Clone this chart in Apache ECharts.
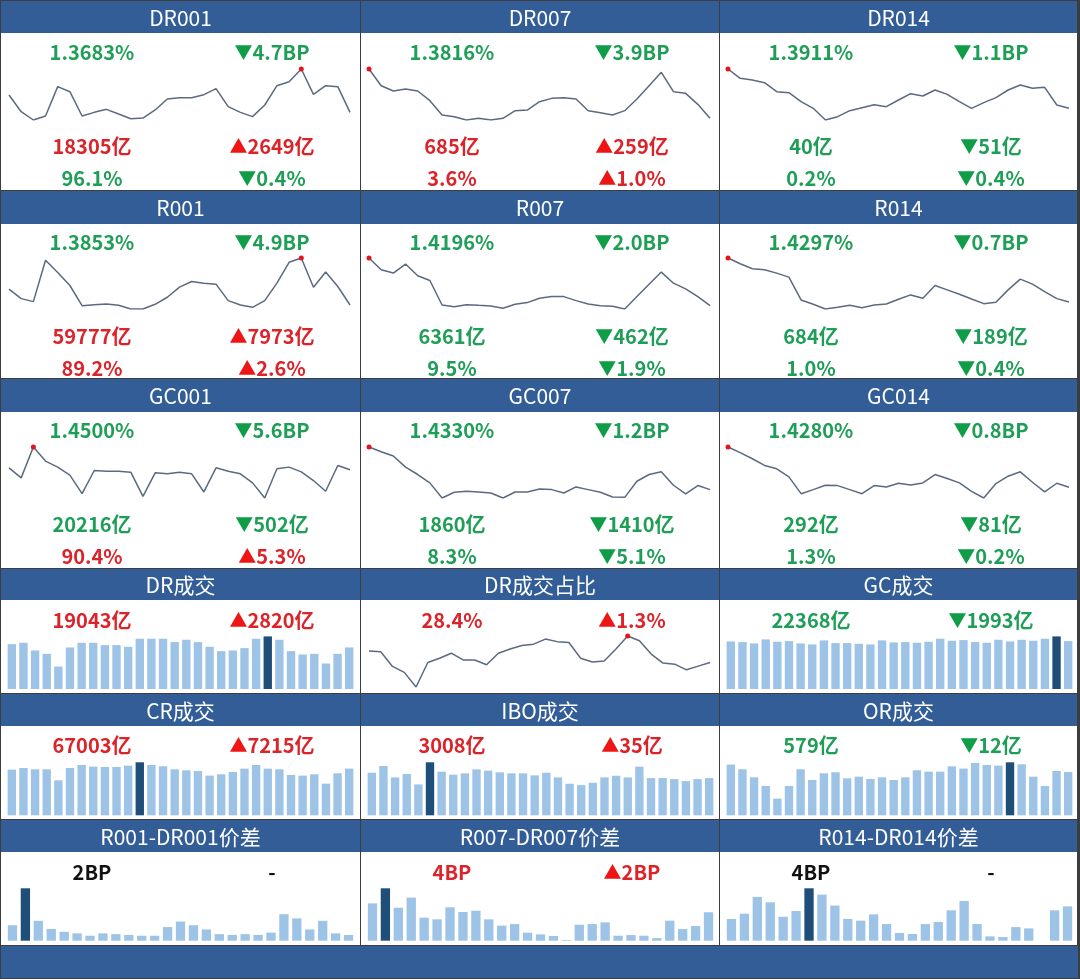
<!DOCTYPE html>
<html><head><meta charset="utf-8">
<script src="https://cdn.jsdelivr.net/npm/echarts/dist/echarts.min.js"></script>
<style>html,body{margin:0;padding:0;background:#fff}#c{width:1080px;height:979px}</style>
</head><body><div id="c"></div>
<script>
// ---------- DATA ----------
const rateNames = ['DR001','DR007','DR014','R001','R007','R014','GC001','GC007','GC014'];
const dr001Rates = [1.4000,1.3695,1.3543,1.3616,1.4153,1.4061,1.3616,1.3683,1.3738,1.3652,1.3567,1.3579,1.3726,1.3927,1.3951,1.3951,1.4006,1.4116,1.3787,1.3683,1.3604,1.3817,1.4171,1.4244,1.4476,1.4012,1.4171,1.4153,1.3683];
const dr007Rates = [1.5191,1.4726,1.4578,1.4633,1.4578,1.4308,1.3909,1.3862,1.3770,1.3816,1.3770,1.3816,1.4030,1.4048,1.4281,1.4373,1.4392,1.4355,1.4030,1.3974,1.3909,1.4030,1.4355,1.4726,1.5098,1.4559,1.4513,1.4206,1.3816];
const dr014Rates = [1.5209,1.4901,1.4846,1.4758,1.4461,1.4428,1.4131,1.3911,1.3526,1.3636,1.3834,1.3933,1.4032,1.3966,1.4186,1.4395,1.4318,1.4516,1.4373,1.4131,1.3911,1.4098,1.4263,1.4516,1.4681,1.4571,1.4604,1.4021,1.3911];
const r001Rates = [1.4272,1.4022,1.3942,1.5038,1.4717,1.4370,1.3835,1.3862,1.3880,1.3844,1.3746,1.3746,1.3871,1.4058,1.4325,1.4477,1.4432,1.4405,1.3969,1.3853,1.3791,1.3969,1.4432,1.4985,1.5100,1.4325,1.4726,1.4343,1.3853];
const r007Rates = [1.5248,1.4989,1.4915,1.5115,1.4855,1.4752,1.4211,1.4174,1.4218,1.4203,1.4189,1.4137,1.4226,1.4263,1.4359,1.4396,1.4396,1.4307,1.4233,1.4196,1.4181,1.4122,1.4396,1.4670,1.4937,1.4692,1.4567,1.4396,1.4196];
const r014Rates = [1.5214,1.5095,1.4990,1.4969,1.4899,1.4815,1.4339,1.4248,1.4150,1.4185,1.4227,1.4178,1.4234,1.4255,1.4353,1.4444,1.4374,1.4640,1.4549,1.4458,1.4360,1.4262,1.4290,1.4549,1.4773,1.4668,1.4514,1.4367,1.4297];
const gc001Rates = [1.4758,1.3468,1.7424,1.5618,1.4844,1.3812,1.1447,1.4414,1.4328,1.4328,1.4199,1.1103,1.4113,1.3984,1.4199,1.3984,1.1662,1.4758,1.4328,1.3984,1.2823,1.0888,1.4629,1.4844,1.4242,1.3124,1.1748,1.5059,1.4500];
const gc007Rates = [1.5600,1.5460,1.5330,1.5000,1.4780,1.4530,1.4080,1.4250,1.4280,1.4260,1.4230,1.4080,1.4260,1.4260,1.4350,1.4330,1.4230,1.4410,1.4330,1.4250,1.4110,1.4100,1.4580,1.4780,1.4860,1.4460,1.4200,1.4450,1.4330];
const gc014Rates = [1.5080,1.4967,1.4847,1.4714,1.4647,1.4487,1.4153,1.4233,1.4320,1.4313,1.4233,1.4153,1.4313,1.4287,1.4360,1.4327,1.4367,1.4533,1.4453,1.4367,1.4200,1.4067,1.4353,1.4500,1.4587,1.4380,1.4187,1.4360,1.4280];
const rateSeries = [dr001Rates,dr007Rates,dr014Rates,r001Rates,r007Rates,r014Rates,gc001Rates,gc007Rates,gc014Rates];
const rateChangeBP = [-4.7,-3.9,-1.1,-4.9,-2.0,-0.7,-5.6,-1.2,-0.8];
const tradeVolume = [18305,685,40,59777,6361,684,20216,1860,292];
const tradeVolumeChange = [2649,259,-51,7973,-462,-189,-502,-1410,-81];
const tradeShare = [96.1,3.6,0.2,89.2,9.5,1.0,90.4,8.3,1.3];
const tradeShareChange = [-0.4,1.0,-0.4,2.6,-1.9,-0.4,5.3,-5.1,-0.2];

const volNames = ['DR成交','DR成交占比','GC成交','CR成交','IBO成交','OR成交'];
const drVolume = [16250,16740,13950,12740,8130,15040,16740,16740,15890,15890,15280,18190,18190,18190,16980,17830,16980,15280,13710,13950,14800,18190,19043,17830,13710,12490,12740,9220,12740,15040];
const drShare = [32.5,32.2,27.0,24.9,19.7,28.4,29.9,31.7,29.3,29.3,27.6,31.7,33.2,34.4,34.9,36.7,35.8,35.5,29.9,28.6,28.9,33.2,37.8,36.1,31.4,28.2,27.8,25.8,27.1,28.4];
const gcVolume = [20230,19950,19380,21090,20090,20370,19380,18950,20660,19520,19520,19230,18950,20660,19800,19950,19660,20090,21370,20520,20800,19950,19660,20940,20230,20940,20520,21370,22368,20370];
const crVolume = [57730,59840,58150,58150,44250,59840,63630,61520,61100,61100,62790,67003,63630,61950,58150,56890,56050,50150,51830,54780,59000,63630,59000,58150,50990,50150,51830,40030,53100,59000];
const iboVolume = [2418,2799,2151,2342,1752,3008,2475,2304,2380,2608,2532,2437,2380,2380,2266,2418,2151,1790,1713,1847,2151,2247,2151,2761,2113,2113,2056,1942,2056,2113];
const orVolume = [554,503,415,320,182,320,503,386,459,470,404,422,397,415,386,415,492,477,477,535,510,572,550,543,579,557,422,320,484,473];
const volSeries = [drVolume,drShare,gcVolume,crVolume,iboVolume,orVolume];
const volLevel = [19043,28.4,22368,67003,3008,579];
const volChange = [2820,1.3,-1993,7215,35,-12];
const volUnit = ['亿','%','亿','亿','亿','亿'];

const spreadNames = ['R001-DR001价差','R007-DR007价差','R014-DR014价差'];
const r001Spread = [0.59,2.0,0.76,0.45,0.34,0.28,0.19,0.28,0.25,0.22,0.19,0.19,0.52,0.73,0.59,0.43,0.25,0.22,0.25,0.22,0.31,1.01,0.85,0.43,0.76,0.28,0.22];
const r007Spread = [2.85,4.0,2.52,3.29,1.76,1.63,2.55,2.19,2.29,1.63,1.15,1.27,0.61,0.48,0.36,0.05,1.22,1.27,1.40,0.38,0.43,0.38,0.20,1.53,0.89,1.12,2.17];
const r014Spread = [1.66,2.06,3.34,2.93,1.83,2.27,4.0,3.52,2.68,1.66,1.53,2.01,1.27,0.59,0.51,1.27,1.43,2.32,3.03,1.27,0.33,0.28,1.04,0.94,0,2.32,2.62];
const spreadSeries = [r001Spread,r007Spread,r014Spread];
const spreadLevel = [2,4,4];
const spreadChange = [null,2,null];

// ---------- STYLE ----------
const FONT = '"Noto Sans CJK SC","Noto Sans",sans-serif';
const GREEN = '#1f9e57', GREEN_T = '#0f9d47', RED = '#dc2329', RED_T = '#ee1515', BLACK = '#111111';
const HEADER = '#325d97', BORDER = '#3d3d3d', LINE = '#5b6a80', BAR = '#9dc3e6', BAR_DARK = '#1f4e79', DOT = '#e3141b';
const colX = [1, 361, 720], colW = [359, 358, 357];
const rowGeo = [
  {hTop:1, hH:32, end:190},
  {hTop:191, hH:33, end:378},
  {hTop:379, hH:33, end:568},
  {hTop:569, hH:31, end:693},
  {hTop:694, hH:32, end:819},
  {hTop:820, hH:32, end:945}
];

const graphic = [], grid = [], xAxis = [], yAxis = [], series = [];

function colorOf(v){ return v == null ? BLACK : (v > 0 ? RED : GREEN); }
function triColor(v){ return v > 0 ? RED_T : GREEN_T; }
function addText(x, y, str, color, size){
  graphic.push({type:'text', x, y, z:10, silent:true, style:{
    text:str, fill:color, textAlign:'center', textVerticalAlign:'middle', align:'center', verticalAlign:'middle',
    fontSize:size||20, fontFamily:FONT, fontWeight:'bold'}});
}
function addChange(x, y, v, str){
  if (v == null){ addText(x, y, '-', BLACK); return; }
  graphic.push({type:'text', x, y, z:10, silent:true, style:{
    text:'{a|' + (v > 0 ? '▲' : '▼') + '}{b|' + str + '}',
    textAlign:'center', textVerticalAlign:'middle', align:'center', verticalAlign:'middle',
    fontSize:20, fontFamily:FONT, fontWeight:'bold',
    rich:{
      a:{fill:triColor(v), fontSize:18, fontFamily:FONT, fontWeight:'bold'},
      b:{fill:colorOf(v), fontSize:20, fontFamily:FONT, fontWeight:'bold'}
    }}});
}
function addCell(r, c, title){
  const g = rowGeo[r];
  graphic.push({type:'rect', z:0, silent:true, shape:{x:colX[c], y:g.hTop, width:colW[c], height:g.hH}, style:{fill:HEADER}});
  graphic.push({type:'rect', z:0, silent:true, shape:{x:colX[c], y:g.hTop+g.hH, width:colW[c], height:g.end-g.hTop-g.hH}, style:{fill:'#ffffff'}});
  graphic.push({type:'text', x:colX[c]+colW[c]/2, y:g.hTop+g.hH/2+1, z:10, silent:true, style:{
    text:title, fill:'#ffffff', textAlign:'center', textVerticalAlign:'middle', align:'center', verticalAlign:'middle',
    fontSize:21, fontFamily:FONT, fontWeight:'normal'}});
}
function addLine(left, top, width, height, data){
  const i = grid.length;
  grid.push({left, top, width, height});
  xAxis.push({type:'category', gridIndex:i, show:false, boundaryGap:false, data:data.map((_, k) => k + 1)});
  yAxis.push({type:'value', gridIndex:i, show:false, min:'dataMin', max:'dataMax'});
  series.push({type:'line', xAxisIndex:i, yAxisIndex:i, data, symbol:'none', silent:true,
    lineStyle:{color:LINE, width:1.5},
    markPoint:{symbol:'circle', symbolSize:5, silent:true, label:{show:false}, itemStyle:{color:DOT}, data:[{type:'max'}]}});
}
function addBars(left, top, width, height, data){
  const i = grid.length;
  const mx = Math.max(...data);
  grid.push({left, top, width, height});
  xAxis.push({type:'category', gridIndex:i, show:false, boundaryGap:true, data:data.map((_, k) => k + 1)});
  yAxis.push({type:'value', gridIndex:i, show:false, min:0, max:'dataMax'});
  series.push({type:'bar', xAxisIndex:i, yAxisIndex:i, data, silent:true, barCategoryGap:'28%',
    itemStyle:{color:p => p.value === mx ? BAR_DARK : BAR}});
}

// rate panels (rows 0-2)
const lineTop = [69, 258, 447];
rateNames.forEach((name, k) => {
  const r = Math.floor(k / 3), c = k % 3, g = rowGeo[r];
  addCell(r, c, name);
  const d = rateSeries[k];
  const x1 = colX[c] + 91, x2 = colX[c] + 271;
  addText(x1, g.hTop + 51, d[d.length - 1].toFixed(4) + '%', colorOf(rateChangeBP[k]));
  addChange(x2, g.hTop + 51, rateChangeBP[k], Math.abs(rateChangeBP[k]).toFixed(1) + 'BP');
  addLine(colX[c] + 8, lineTop[r], 341, 51, d);
  addText(x1, g.hTop + 145, tradeVolume[k] + '亿', colorOf(tradeVolumeChange[k]));
  addChange(x2, g.hTop + 145, tradeVolumeChange[k], Math.abs(tradeVolumeChange[k]) + '亿');
  addText(x1, g.hTop + 177, tradeShare[k].toFixed(1) + '%', colorOf(tradeShareChange[k]));
  addChange(x2, g.hTop + 177, tradeShareChange[k], Math.abs(tradeShareChange[k]).toFixed(1) + '%');
});

// volume panels (rows 3-4)
const barTop = [636.4, 762.3], barBase = [689, 815.3];
volNames.forEach((name, k) => {
  const r = 3 + Math.floor(k / 3), c = k % 3, g = rowGeo[r];
  addCell(r, c, name);
  const x1 = colX[c] + 91, x2 = colX[c] + 271;
  const isPct = volUnit[k] === '%';
  const fmt = v => (isPct ? Math.abs(v).toFixed(1) : Math.abs(v)) + volUnit[k];
  addText(x1, g.hTop + 51, fmt(volLevel[k]), colorOf(volChange[k]));
  addChange(x2, g.hTop + 51, volChange[k], fmt(volChange[k]));
  if (isPct) addLine(colX[c] + 8, 636, 341, 51, volSeries[k]);
  else {
    const rr = r - 3;
    addBars(colX[c] + 5, barTop[rr], 349, barBase[rr] - barTop[rr], volSeries[k]);
  }
});

// spread panels (row 5)
spreadNames.forEach((name, k) => {
  const r = 5, c = k, g = rowGeo[r];
  addCell(r, c, name);
  const x1 = colX[c] + 91, x2 = colX[c] + 271;
  addText(x1, g.hTop + 52, spreadLevel[k] + 'BP', colorOf(spreadChange[k]));
  addChange(x2, g.hTop + 52, spreadChange[k], spreadChange[k] == null ? '' : Math.abs(spreadChange[k]) + 'BP');
  addBars(colX[c] + 5, 888.3, 349, 52.4, spreadSeries[k]);
});

// footer bar
graphic.push({type:'rect', z:0, silent:true, shape:{x:1, y:946, width:1077, height:32}, style:{fill:HEADER}});

const chart = echarts.init(document.getElementById('c'), null, {renderer:'canvas'});
chart.setOption({
  backgroundColor: BORDER,
  animation: false,
  graphic: {elements: graphic},
  grid, xAxis, yAxis, series
});
</script></body></html>
